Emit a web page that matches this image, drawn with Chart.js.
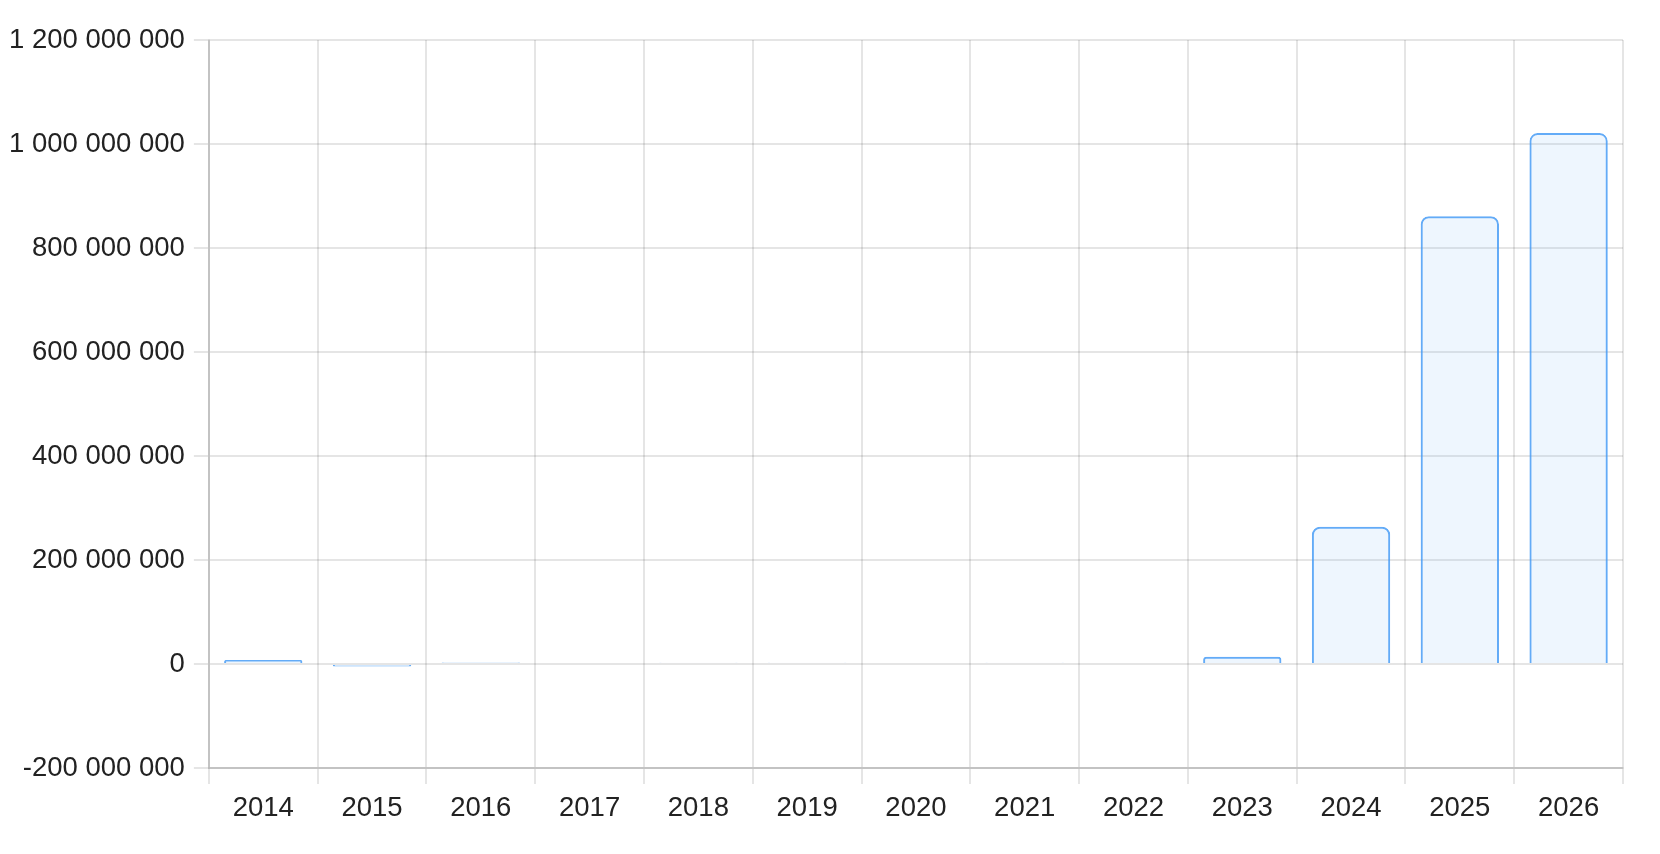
<!DOCTYPE html>
<html>
<head>
<meta charset="utf-8">
<script src="https://cdn.jsdelivr.net/npm/chart.js@4.4.1/dist/chart.umd.min.js"></script>
<style>
    html, body { margin: 0; padding: 0; background: #fff; }
    #wrap { width: 1660px; height: 854px; }
</style>
</head>
<body>
<div id="wrap"><canvas id="chart"></canvas></div>
<script>
// Data
const years = ['2014', '2015', '2016', '2017', '2018', '2019', '2020', '2021', '2022', '2023', '2024', '2025', '2026'];
const amounts = [7800000, -5000000, 3000000, null, 2500000, 2500000, null, 2500000, null, 14000000, 264000000, 861000000, 1021000000];

const yMin = -200000000;
const yMax = 1200000000;
const yStep = 200000000;

// 1200000000 -> "1 200 000 000"
function formatNumber(value) {
    return String(value).replace(/\B(?=(\d{3})+(?!\d))/g, ' ');
}

const tickFont = { family: 'Helvetica, Arial, "Liberation Sans", sans-serif', size: 27.5 };

const ctx = document.getElementById('chart').getContext('2d');

new Chart(ctx, {
    type: 'bar',
    data: {
        labels: years,
        datasets: [{
            data: amounts,
            backgroundColor: 'rgba(60, 150, 245, 0.085)',
            borderColor: 'rgba(60, 150, 245, 0.8)',
            borderWidth: 2,
            borderRadius: 8
        }]
    },
    options: {
        responsive: true,
        maintainAspectRatio: false,
        animation: false,
        layout: {
            padding: { top: 40, right: 37, bottom: 21, left: 0 }
        },
        plugins: {
            legend: { display: false },
            tooltip: { enabled: false }
        },
        scales: {
            x: {
                grid: { color: 'rgba(0,0,0,0.1)', tickLength: 16, lineWidth: 2 },
                border: { color: 'rgba(0,0,0,0.15)', width: 2 },
                ticks: {
                    color: '#222',
                    padding: 8,
                    maxRotation: 0,
                    font: tickFont
                }
            },
            y: {
                min: yMin,
                max: yMax,
                grid: { color: 'rgba(0,0,0,0.1)', tickLength: 15, lineWidth: 2 },
                border: { color: 'rgba(0,0,0,0.15)', width: 2 },
                ticks: {
                    stepSize: yStep,
                    color: '#222',
                    padding: 9,
                    font: tickFont,
                    callback: function(value) {
                        return formatNumber(value);
                    }
                }
            }
        }
    }
});
</script>
</body>
</html>
